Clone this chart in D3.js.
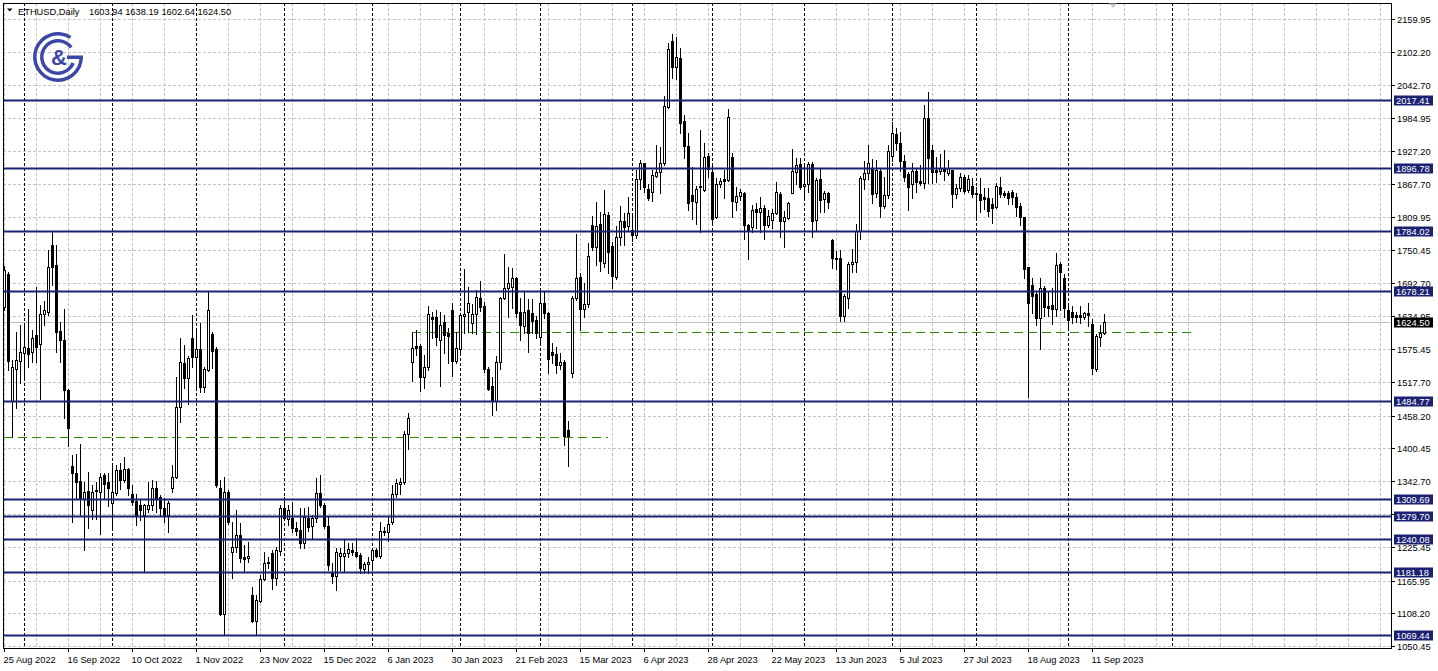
<!DOCTYPE html>
<html><head><meta charset="utf-8">
<script src="https://cdn.jsdelivr.net/npm/d3@7"></script>
<style>html,body{margin:0;padding:0;background:#fff;overflow:hidden}</style>
</head><body>
<svg id="c" width="1438" height="671"></svg>
<script>
// ---------------- DATA ----------------
const symbolLabel = "ETHUSD,Daily";
const lastQuote = ["1603.94", "1638.19", "1602.64", "1624.50"];
const currentPrice = 1624.50;

// daily bars (weekdays) from 25 Aug 2022 to 14 Sep 2023
const opens = [
1651,1709.5,1483.6,1541.3,1554.3,1569.6,1578.5,1570.8,1600.3,1585.6,
1638.7,1641.6,1760.8,1724.2,1607.4,1591.5,1503,1369.6,1355.9,1342.4,
1310.6,1324.8,1290.7,1324,1323.6,1352.8,1340,1302.9,1321.8,1361.9,
1344.2,1363.7,1320.2,1306.6,1300.7,1281.8,1293.7,1300.7,1329.4,1314.7,
1295.3,1282.3,1330.7,1350.1,1474,1550.6,1525.3,1596,1562.4,1576,
1509.4,1538.9,1602,1576,1329.5,1106.5,1323.6,1216.2,1226.2,1246.9,
1207.5,1205.6,1140.7,1094.7,1130.1,1169,1196.8,1214.5,1171.4,1218.6,
1295.3,1275.2,1276.4,1259.9,1255.8,1232.2,1277.6,1263.4,1276.4,1320.6,
1300,1263.4,1182,1175,1210.3,1210.3,1214.5,1220.4,1216.2,1211.5,
1186.8,1195,1202.7,1220.4,1210.3,1251.6,1251.6,1269.3,1318.9,1336.6,
1341.3,1425,1552.4,1581.9,1581.9,1527,1544.8,1633.2,1633.2,1592,
1624.4,1603.7,1645,1554.8,1576,1635,1642.1,1621.4,1637.4,1666.8,
1652,1540,1510.6,1484.6,1553.6,1665.7,1683.4,1685.1,1701,1642.1,
1616.7,1645,1640.3,1627.3,1597.9,1656.8,1639.1,1571.3,1567.2,1547.7,
1553.6,1432.7,1533,1665.7,1702.9,1646.2,1655.6,1795.4,1757.1,1797.2,
1727.6,1813.1,1758.3,1704,1773.6,1803.1,1793.7,1786.6,1777.7,1876.2,
1905.7,1858.6,1854.4,1882.1,1889.8,1905.7,2003.6,2121.6,2074.4,2090.4,
1980,1935.2,1848.5,1836.7,1862.1,1857.4,1917.5,1889.8,1809,1868,
1876.2,1875,1915.2,1836.7,1846.8,1852.6,1795.4,1792.5,1823.1,1819,
1824.9,1795.4,1804.3,1817.3,1850.3,1803.1,1807.2,1852.6,1889.8,1903.4,
1865,1868.6,1902.8,1804.3,1876.8,1841.5,1851.5,1768.9,1737.6,1736.5,
1635,1666.8,1725.8,1729.4,1784.8,1876.8,1886.8,1895.7,1851.5,1891,
1829.6,1848.5,1918.1,1955.9,1939.9,1908.7,1885,1867.4,1891,1873.3,
1869.2,1985.4,1928.2,1892.8,1891.6,1895.7,1886.8,1892.8,1849.7,1860.3,
1880.9,1857.4,1864.4,1852.6,1850.3,1844.4,1842.6,1832.6,1826.7,1863.3,
1852.6,1851.5,1854.4,1845.6,1829,1809,1720.5,1689.3,1673.3,1630.3,
1683.4,1652.1,1653.9,1646.2,1726.4,1701,1645,1642.1,1636.2,1636.2,
1632,1640.3,1620.2,1540,1597.9,1603.94];
const highs = [
1722,1712,1556,1606.2,1618,1621,1647.5,1609,1685.9,1653.4,
1660.5,1750.8,1783.2,1760,1624,1647.5,1505,1388,1391,1408.7,
1341,1358.9,1335,1341,1355.9,1355.9,1356,1373.7,1370.8,1373.7,
1385,1365,1335,1320,1308,1301,1341,1344,1342,1317,
1311.8,1307,1370.8,1527,1596,1583,1564,1636.2,1613.8,1621.4,
1544.8,1678.6,1606.7,1580,1344.2,1350,1327,1269.3,1291,1267.5,
1229,1235,1155.5,1140.7,1176.1,1217.4,1208.6,1220.4,1226.3,1300,
1314.7,1300,1304.7,1269.3,1295.3,1294,1297,1282.3,1348.3,1353,
1303,1279.4,1196.8,1223.3,1223.3,1240,1232.2,1232.2,1241,1214.5,
1199.7,1208.6,1223.3,1223.3,1270.5,1261.6,1279.4,1335.4,1346,1347.2,
1431,1462,1605.5,1609.6,1584.3,1565.4,1652.7,1640.9,1645,1642.1,
1636.2,1612.6,1656.8,1606.7,1637.4,1717.6,1686.3,1655,1680.4,1696.3,
1659.8,1544.8,1527,1563.6,1668.6,1744.1,1721.7,1718.8,1704,1665.7,
1677.5,1663.9,1663.9,1634.4,1677.5,1677.5,1642.1,1586.1,1580.2,1568.4,
1556.5,1449,1669.8,1779.5,1709.9,1692.2,1763,1811.3,1836.7,1819,
1857.4,1819,1766,1793.7,1829,1817.3,1845.6,1813.1,1892.8,1910.4,
1906,1868,1892.8,1937,1934,2023.7,2116.9,2133.4,2128.7,2108,
1990,1957.6,1897.5,1864.5,1963.5,1940,1923.4,1901.6,1878,1878,
1892.8,2000,1922.3,1862.1,1858.5,1854.4,1797.2,1830.8,1835,1845.6,
1830.8,1822,1823.1,1872.1,1854.4,1820.8,1836.7,1929.3,1913.4,1913.4,
1901.6,1906.3,1906.3,1879.2,1896.9,1855.6,1854.4,1770.6,1749.4,1751.2,
1672.7,1730.5,1753,1796.6,1882.7,1908.6,1937,1912.2,1910.4,1896.9,
1881,1937,1977.1,1966.5,1959.4,1919.3,1888.6,1904.5,1895.7,1901.6,
2007.7,2030.2,1937,1916.3,1920.5,1928.2,1910.4,1893,1867.4,1886.8,
1883.9,1883.9,1878,1863.3,1878,1860.3,1860.3,1842.6,1870.3,1879.8,
1856.2,1856.2,1857.4,1851.5,1833.8,1810.2,1721.7,1701,1677.5,1701,
1687.5,1677.5,1683.4,1746.5,1730.5,1708.7,1653.9,1652.1,1642.1,1652.1,
1642.1,1658,1628.5,1602.5,1618.5,1638.19];
const lows = [
1645,1538,1420.5,1471.7,1516.5,1523.6,1544,1553,1553,1488.2,
1618,1636,1690,1571,1553,1454,1404.5,1270,1311.5,1282,
1220,1259.5,1276,1276,1249.4,1313,1298,1258,1317,1329,
1341,1317,1299.5,1264,1273,1181.6,1288,1291,1288,1282,
1270.5,1251.6,1323.6,1347,1446.3,1506.4,1478,1544.8,1506.4,1499.3,
1499.3,1537,1541.8,1332.4,1105,1071,1267,1170.2,1217.5,1199.7,
1182,1199.7,1093.5,1071,1129,1167.3,1187.9,1151.4,1158.4,1211.5,
1273.5,1264.6,1252.8,1246.9,1223.3,1223.3,1254,1241,1270.5,1297,
1258.7,1185,1161.4,1149.6,1185,1183,1208.6,1211.5,1208.6,1179.1,
1179.1,1179.1,1190.9,1208.6,1206.8,1246.9,1236.3,1265.8,1314.7,1318.9,
1336.6,1399.1,1519.4,1565.4,1501.7,1506.4,1538.9,1594.9,1583.1,1511,
1568.4,1550.6,1528.8,1552,1571.3,1605,1605.5,1603.7,1602,1643.3,
1536,1503.5,1459.2,1468,1540,1663.9,1633.2,1648,1632,1592,
1605,1571.3,1605,1594.9,1589,1630.3,1534.1,1551.8,1534.1,1540,
1406.2,1369,1525.9,1662.7,1609.6,1632,1650.9,1751,1724.6,1714.6,
1721.7,1711.1,1683.4,1699.3,1760,1760,1786.6,1767.7,1771.8,1858.5,
1854.4,1839.7,1838.5,1881,1851.5,1901.6,2001.9,2055,2053.2,1957.6,
1913.4,1822,1805.5,1797.2,1783.6,1856,1881,1798.4,1807.2,1863.3,
1844,1874,1809,1822,1839.7,1770,1734.7,1783.6,1789.5,1783.6,
1770,1792.5,1789.5,1814.9,1774.8,1757.1,1805.5,1851.5,1868,1858.5,
1845.6,1854.4,1774.8,1786.6,1819,1819,1825,1718.8,1717.6,1625.6,
1625.6,1648,1711.7,1712.9,1770.7,1859,1876.8,1833.8,1845.6,1810.2,
1825,1843.8,1908.7,1928.2,1891,1873.3,1822,1842.6,1854.4,1866.2,
1861.5,1869.2,1869.2,1872.1,1885,1875,1883.9,1827.9,1842.6,1855.6,
1851.5,1854.4,1845.6,1809,1819,1823.1,1811.3,1799.6,1824.9,1845.6,
1844.4,1832.6,1832.6,1811.3,1795.4,1701,1491.7,1640.3,1618.5,1575.4,
1634.4,1634.4,1620.2,1634.4,1645,1633.2,1609.6,1622.6,1624.4,1621.4,
1628.5,1616.7,1531.8,1537.7,1581.3,1602.64];
const closes = [
1716,1554.4,1544.3,1557.2,1570.8,1579.6,1567.9,1595.6,1579.6,1638.7,
1644.6,1721.3,1721.3,1606.2,1591.5,1503,1436.4,1355.9,1341.3,1310.6,
1323.6,1300,1323.6,1326,1350,1336.5,1329.4,1323.6,1361.9,1344.2,
1363.7,1329.4,1305.5,1281.8,1290.7,1299.6,1300.7,1329.4,1311.7,1294,
1282.3,1302.9,1350.1,1474,1552.4,1525.3,1560.7,1562.4,1576,1509.4,
1540.6,1645,1572.5,1335.4,1106.5,1323.6,1269.3,1226.2,1246.9,1206.8,
1204.5,1209.7,1094.7,1131.9,1169,1196.8,1199.7,1170.2,1220.4,1295.3,
1276.4,1291.1,1259.9,1254,1232.2,1279.4,1261.6,1276.4,1320.6,1300,
1263.4,1193.8,1175,1216.2,1214.5,1214.5,1222.2,1216.2,1210.3,1188,
1195,1198.5,1220.4,1210.3,1254,1254,1265.8,1318.9,1338.3,1341.3,
1425,1454.5,1578.4,1578.4,1527,1544.8,1637.4,1629,1597.9,1618.5,
1600.8,1599,1554.8,1577.2,1636.2,1637.4,1656.8,1637.4,1668.6,1651,
1540,1504.6,1484.6,1553.6,1665.7,1683.4,1693.4,1701,1639.1,1618.5,
1642.1,1603.7,1626.2,1603.7,1656.8,1639.1,1557.7,1565.4,1547.7,1553.6,
1422.1,1422.1,1665.7,1701,1646.2,1655.6,1740.6,1757.1,1793.7,1732.3,
1814.9,1748.2,1705.2,1773.6,1803.1,1792.5,1817.3,1777.7,1876.2,1904.5,
1862.1,1842.6,1883.9,1889.8,1905.7,2006,2106.3,2074.4,2092.1,1976.5,
1935.2,1835,1838.5,1858.5,1864.5,1916.4,1894,1805.5,1868,1873.9,
1873.9,1986,1838.5,1846.8,1854.4,1795.4,1786.6,1822,1819,1824.9,
1795.4,1811.3,1816,1854.4,1803.1,1809,1835,1891.6,1901.6,1863.3,
1868.6,1902.8,1802.5,1875,1839.7,1851.5,1835.6,1737.6,1735.3,1635,
1670.4,1725.8,1729.4,1784.8,1878,1886.8,1904.5,1849.7,1892.8,1829.6,
1848.5,1926.4,1957.6,1939.9,1908.7,1880.9,1863.3,1891,1870.9,1869.2,
1985.4,1913.4,1888.6,1889.8,1896.9,1891,1895.7,1849.7,1861.5,1881,
1856.2,1876.2,1850.3,1850.3,1839.7,1840.9,1820.8,1824.9,1864.4,1850.3,
1848.5,1842.6,1845.6,1827.9,1810.2,1717,1656.8,1669.8,1630.3,1683.4,
1649.7,1648,1646.2,1724.6,1712.9,1648,1627.3,1633.2,1632,1632,
1640.3,1636.2,1541.8,1599,1603.9,1624.5];

// time axis labels, one every 16 bars
const dateLabels = ["25 Aug 2022","16 Sep 2022","10 Oct 2022","1 Nov 2022","23 Nov 2022",
  "15 Dec 2022","6 Jan 2023","30 Jan 2023","21 Feb 2023","15 Mar 2023","6 Apr 2023",
  "28 Apr 2023","22 May 2023","13 Jun 2023","5 Jul 2023","27 Jul 2023","18 Aug 2023","11 Sep 2023"];
// bar index of the first bar of each month (period separators)
const monthStarts = [5,27,48,70,92,114,134,157,177,200,222,243,266,292];
// price scale tick labels
const priceTicks = ["2159.95","2102.20","2042.70","1984.95","1927.20","1867.70","1809.95",
  "1750.45","1692.70","1634.95","1575.45","1517.70","1458.20","1400.45","1342.70","1283.20",
  "1225.45","1165.95","1108.20","1050.45"];
// horizontal support / resistance levels
const levels = [2017.41,1896.78,1784.02,1678.21,1484.77,1309.69,1279.70,1240.08,1181.18,1069.44];
// green dashed lines: [startBar, endBar, price]
const greenLines = [[0,151,1421],[102,298,1606]];

// ---------------- DRAW ----------------
const svg = d3.select("#c");
const L = 3, R = 1391, T = 3, B = 648;
const FONT = "'Liberation Sans', Arial, sans-serif";
const nBars = closes.length;

const x = d3.scaleLinear().domain([0, nBars - 1]).range([4, 4 + 4 * (nBars - 1)]);
const y = d3.scaleLinear().domain([1050.45, 2159.95]).range([646, 19]);
const py = v => Math.round(y(v));

svg.append("rect").attr("width",1438).attr("height",671).attr("fill","#fff");

svg.append("defs").append("clipPath").attr("id","plot")
  .append("rect").attr("x",L+1).attr("y",T+1).attr("width",R-L-1).attr("height",B-T-1);
const plot = svg.append("g").attr("clip-path","url(#plot)");

// grid
const gridColor = "#c3c3c3";
priceTicks.forEach(t => {
  const yy = py(+t) + 0.5;
  plot.append("line").attr("x1",L).attr("x2",R).attr("y1",yy).attr("y2",yy)
    .attr("stroke",gridColor).attr("stroke-dasharray","3,2");
});
for (let i = 0; x(i) < R - 2; i += 8) {
  const xx = Math.round(x(i)) + 0.5;
  plot.append("line").attr("x1",xx).attr("x2",xx).attr("y1",T).attr("y2",B)
    .attr("stroke",gridColor).attr("stroke-dasharray","3,2");
}
// month separators
monthStarts.forEach(i => {
  const xx = Math.round(x(i)) + 0.5;
  plot.append("line").attr("x1",xx).attr("x2",xx).attr("y1",T).attr("y2",B)
    .attr("stroke","#000").attr("stroke-dasharray","3,2");
});

// current price line
plot.append("line").attr("x1",L).attr("x2",R)
  .attr("y1",py(currentPrice)+0.5).attr("y2",py(currentPrice)+0.5)
  .attr("stroke","#c0c0c0");

// green dashed lines
greenLines.forEach(g => {
  const yy = py(g[2]) + 0.5;
  plot.append("line").attr("x1",x(g[0])).attr("x2",x(g[1])).attr("y1",yy).attr("y2",yy)
    .attr("stroke","#2e8b00").attr("stroke-dasharray","9,5");
});

// candles
const bars = d3.range(nBars).map(i => ({i, o: opens[i], h: highs[i], l: lows[i], c: closes[i]}));
const cg = plot.append("g");
const cand = cg.selectAll("g.c").data(bars).join("g");
cand.append("line")
  .attr("x1", d => Math.round(x(d.i)) + 0.5).attr("x2", d => Math.round(x(d.i)) + 0.5)
  .attr("y1", d => py(d.h)).attr("y2", d => py(d.l) + 1)
  .attr("stroke","#000");
cand.each(function(d) {
  const g = d3.select(this);
  const cx = Math.round(x(d.i));
  const yTop = py(Math.max(d.o, d.c)), yBot = py(Math.min(d.o, d.c));
  if (d.c >= d.o) {
    const h = Math.max(yBot - yTop, 1);
    g.append("rect").attr("x", cx - 0.5).attr("y", yTop + 0.5)
      .attr("width", 2).attr("height", h)
      .attr("fill","#fff").attr("stroke","#000");
  } else {
    g.append("rect").attr("x", cx - 1).attr("y", yTop)
      .attr("width", 3).attr("height", Math.max(yBot - yTop + 1, 1))
      .attr("fill","#000");
  }
});

// levels
const navy = "#1b2173";
levels.forEach(v => {
  plot.append("rect").attr("x",L).attr("y",py(v)-0.5).attr("width",R-L).attr("height",2).attr("fill",navy);
});

// frame
svg.append("rect").attr("x",L+0.5).attr("y",T+0.5).attr("width",R-L).attr("height",B-T)
  .attr("fill","none").attr("stroke","#000");

// price axis
priceTicks.forEach(t => {
  const yy = py(+t);
  svg.append("line").attr("x1",R).attr("x2",R+4).attr("y1",yy+0.5).attr("y2",yy+0.5).attr("stroke","#000");
  svg.append("text").attr("x",R+6).attr("y",yy+3.5).text(t)
    .attr("font-family",FONT).attr("font-size","9.3px").attr("fill","#000");
});
levels.forEach(v => {
  const yy = py(v) + 0.5;
  svg.append("rect").attr("x",R+3).attr("y",yy-5).attr("width",39).attr("height",10).attr("fill",navy);
  svg.append("text").attr("x",R+5).attr("y",yy+3.5).text(v.toFixed(2))
    .attr("font-family",FONT).attr("font-size","9.3px").attr("fill","#fff");
});
{
  const yy = py(currentPrice) + 0.5;
  svg.append("rect").attr("x",R+3).attr("y",yy-5).attr("width",39).attr("height",10).attr("fill","#000");
  svg.append("text").attr("x",R+5).attr("y",yy+3.5).text(currentPrice.toFixed(2))
    .attr("font-family",FONT).attr("font-size","9.3px").attr("fill","#fff");
}

// time axis
dateLabels.forEach((lab, k) => {
  const xx = Math.round(x(k * 16)) + 0.5;
  svg.append("line").attr("x1",xx).attr("x2",xx).attr("y1",B).attr("y2",B+4).attr("stroke","#000");
  svg.append("text").attr("x",xx-1).attr("y",B+14.5).text(lab)
    .attr("font-family",FONT).attr("font-size","9.3px").attr("fill","#000");
});

// header
svg.append("path").attr("d","M7,8.5 L12.5,8.5 L9.75,11.5 Z").attr("fill","#000");
svg.append("text").attr("x",18).attr("y",15).text(symbolLabel)
  .attr("font-family",FONT).attr("font-size","9.3px").attr("fill","#000");
svg.append("text").attr("x",89).attr("y",15).text(lastQuote.join(" "))
  .attr("font-family",FONT).attr("font-size","9.3px").attr("fill","#000");

// shift marker
svg.append("path").attr("d","M1109,3.5 L1117,3.5 L1113,8 Z").attr("fill","#c8c8c8");

// logo
const blue = "#3b48a6";
const logo = svg.append("g").attr("transform","translate(58,57)");
logo.append("path").attr("d", d3.arc()({innerRadius:21.5, outerRadius:25, startAngle:Math.PI*0.5, endAngle:Math.PI*2.18})).attr("fill",blue);
logo.append("path").attr("d", d3.arc()({innerRadius:14.5, outerRadius:18, startAngle:Math.PI*0.62, endAngle:Math.PI*2.3})).attr("fill",blue);
logo.append("rect").attr("x",9).attr("y",-1.5).attr("width",16).attr("height",3.5).attr("fill",blue);
logo.append("text").attr("x",1).attr("y",8).attr("text-anchor","middle").text("&")
  .attr("font-family",FONT).attr("font-size","22px").attr("font-weight","bold").attr("fill",blue);
</script>
</body></html>
